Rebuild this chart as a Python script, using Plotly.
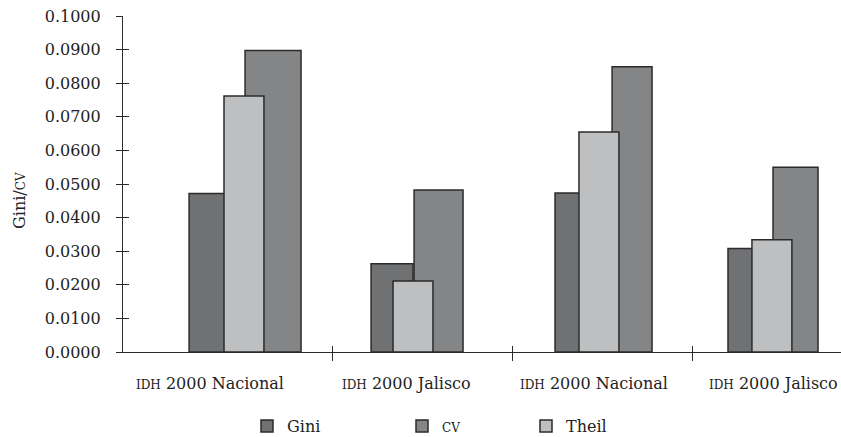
import plotly.graph_objects as go
import numpy as np

# ---- data ----
categories = ["IDH 2000 Nacional", "IDH 2000 Jalisco", "IDH 2000 Nacional", "IDH 2000 Jalisco"]
gini = [0.0472, 0.0263, 0.0473, 0.0308]
cv = [0.0897, 0.0482, 0.0849, 0.0550]
theil = [0.0762, 0.0211, 0.0655, 0.0334]
y_ticks = [round(0.01 * i, 2) for i in range(11)]

# ---- style ----
FONT = "DejaVu Serif"
EDGE = "#2b2b2b"
C_GINI = "#707173"
C_CV = "#848587"
C_THEIL = "#bebfc1"

pos = np.arange(len(categories))

# per-group bar placement (offset / width in category units)
gini_off = [-0.294, -0.283, -0.261, -0.300]
gini_w = [0.222, 0.233, 0.222, 0.222]
cv_off = [0.017, -0.044, 0.056, -0.050]
cv_w = [0.311, 0.272, 0.222, 0.250]
theil_off = [-0.100, -0.161, -0.128, -0.167]
theil_w = [0.222, 0.222, 0.222, 0.222]

fig = go.Figure()


def add_bar(name, vals, color, off, w, legend):
    fig.add_trace(go.Bar(
        x=pos, y=vals, name=name, offset=off, width=w,
        marker=dict(color=color, line=dict(color=EDGE, width=1.5)),
        legend=legend, hoverinfo="y+name",
    ))


add_bar("Gini", gini, C_GINI, gini_off, gini_w, "legend")
add_bar("<span style='font-size:12px'>CV</span>", cv, C_CV, cv_off, cv_w, "legend2")
add_bar("Theil", theil, C_THEIL, theil_off, theil_w, "legend3")

# empty helper traces so the overlay tick axes are rendered
fig.add_trace(go.Scatter(x=[], y=[], xaxis="x2", yaxis="y", showlegend=False))
fig.add_trace(go.Scatter(x=[], y=[], xaxis="x", yaxis="y2", showlegend=False))

xr = [(123 - 242) / 180, (841 - 242) / 180]
bounds = [i + 0.5 for i in range(len(categories) - 1)]

axis_common = dict(showgrid=False, zeroline=False)
legend_common = dict(orientation="h", yref="container", y=1 - 426 / 437, xanchor="left",
                     yanchor="middle", itemwidth=30, font=dict(size=16),
                     bgcolor="rgba(0,0,0,0)")

fig.update_layout(
    width=841, height=437,
    margin=dict(l=123, r=0, t=16, b=85),
    paper_bgcolor="white", plot_bgcolor="white",
    barmode="overlay",
    font=dict(family=FONT, size=16, color="#222"),
    xaxis=dict(range=xr, tickvals=bounds, ticks="outside", ticklen=8, tickwidth=1.2,
               tickcolor=EDGE, showticklabels=False, showline=True, linecolor=EDGE,
               linewidth=1.2, **axis_common),
    xaxis2=dict(range=xr, overlaying="x", anchor="y", side="bottom", tickvals=bounds,
                ticks="inside", ticklen=6, tickwidth=1.2, tickcolor=EDGE,
                showticklabels=False, showline=False, **axis_common),
    yaxis=dict(range=[0, 0.1], tickvals=y_ticks, tickformat=".4f", ticks="outside",
               ticklen=6, tickwidth=1.2, tickcolor=EDGE, showline=True, linecolor=EDGE,
               linewidth=1.2, ticklabelstandoff=12, tickfont=dict(size=16), **axis_common),
    yaxis2=dict(range=[0, 0.1], overlaying="y", anchor="x", side="left", tickvals=y_ticks,
                ticks="inside", ticklen=6, tickwidth=1.2, tickcolor=EDGE,
                showticklabels=False, showline=False, **axis_common),
    legend=dict(x=(247 - 123) / 718, **legend_common),
    legend2=dict(x=(402 - 123) / 718, **legend_common),
    legend3=dict(x=(526 - 123) / 718, **legend_common),
    showlegend=True,
)

# category labels under each group
label_shift = [-32, -16, -8, -9]
for i, cat in enumerate(categories):
    small, rest = cat.split(" ", 1)
    fig.add_annotation(
        x=pos[i], xref="x", y=-0.093, yref="paper", xshift=label_shift[i],
        text=f"<span style='font-size:12px'>{small}</span> {rest}",
        showarrow=False, font=dict(family=FONT, size=16, color="#222"),
        xanchor="center", yanchor="middle",
    )

# y-axis title
fig.add_annotation(
    x=(19 - 123) / 718, xref="paper", y=(352 - 201) / 336, yref="paper",
    text="Gini/<span style='font-size:12px'>CV</span>", textangle=-90,
    showarrow=False, font=dict(family=FONT, size=16, color="#222"),
    xanchor="center", yanchor="middle",
)

fig.write_html("out.html")
